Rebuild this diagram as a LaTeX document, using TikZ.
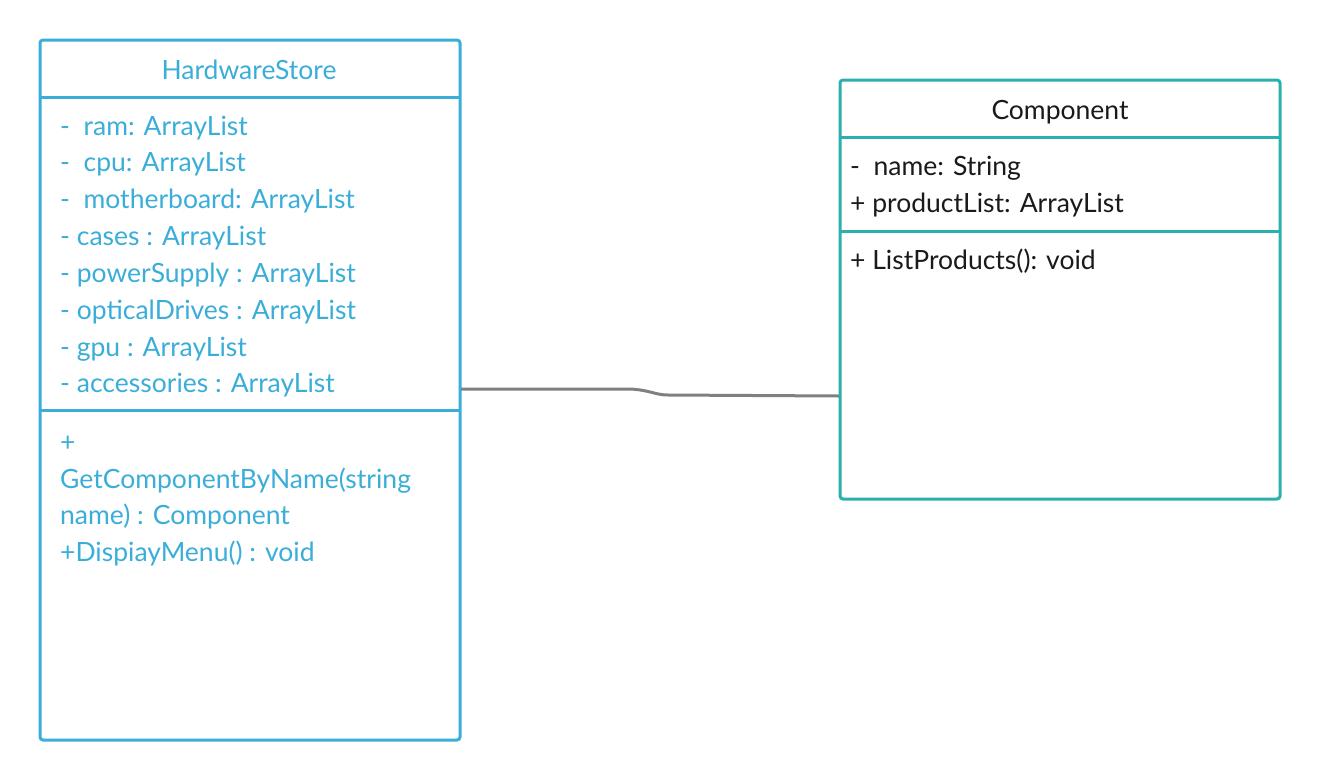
\documentclass[tikz,border=0pt]{standalone}
\usepackage{fontspec}
\setmainfont{Lato}
\definecolor{hsblue}{HTML}{3AAED8}
\definecolor{compteal}{HTML}{2BB0AD}
\definecolor{conngray}{HTML}{808080}
\definecolor{txtdark}{HTML}{1A1A1A}
\begin{document}
\begin{tikzpicture}[x=1pt,y=-1pt,
  classbox/.style={draw, line width=3pt, rounded corners=3pt, fill=white},
  divider/.style={line width=3pt},
  member/.style={anchor=base west, inner sep=0pt, font=\fontsize{26.5}{32}\selectfont},
  title/.style={anchor=base, inner sep=0pt, font=\fontsize{26.5}{32}\selectfont},
  connector/.style={draw=conngray, line width=3pt}
]
\useasboundingbox (0,0) rectangle (1320,780);

% HardwareStore class
\draw[classbox, draw=hsblue] (40,40) rectangle (460,740);
\draw[divider, draw=hsblue] (40,97) -- (460,97);
\draw[divider, draw=hsblue] (40,410) -- (460,410);
\node[title, text=hsblue] (hstitle) at (249,79) {HardwareStore};
\begin{scope}[every node/.style={member, text=hsblue}]
\node (a1) at (60,135) {-\ \ ram: ArrayList};
\node (a2) at (60,171.5) {-\ \ cpu: ArrayList};
\node (a3) at (60,208) {-\ \ motherboard: ArrayList};
\node (a4) at (60,245) {- cases : ArrayList};
\node (a5) at (60,282) {- powerSupply : ArrayList};
\node (a6) at (60,319) {- opticalDrives : ArrayList};
\node (a7) at (60,356) {- gpu : ArrayList};
\node (a8) at (60,392) {- accessories : ArrayList};
\node (m1) at (60,451) {+};
\node (m2) at (60,488) {GetComponentByName(string};
\node (m3) at (60,524) {name) : Component};
\node (m4) at (60,561) {+DispiayMenu() : void};
\end{scope}

% Component class
\draw[classbox, draw=compteal] (840,80) rectangle (1280,499);
\draw[divider, draw=compteal] (840,137) -- (1280,137);
\draw[divider, draw=compteal] (840,231) -- (1280,231);
\node[title, text=txtdark] (ctitle) at (1060,119) {Component};
\begin{scope}[every node/.style={member, text=txtdark}]
\node (c1) at (850,175) {-\ \ name: String};
\node (c2) at (850,212) {+ productList: ArrayList};
\node (c3) at (850,269) {+ ListProducts(): void};
\end{scope}

% connector
\coordinate (hsEnd) at (461,389);
\coordinate (compEnd) at (839,396);
\draw[connector] (hsEnd) -- (630,389) .. controls (650,390) and (655,395) .. (668,395) -- (compEnd);
\end{tikzpicture}
\end{document}
